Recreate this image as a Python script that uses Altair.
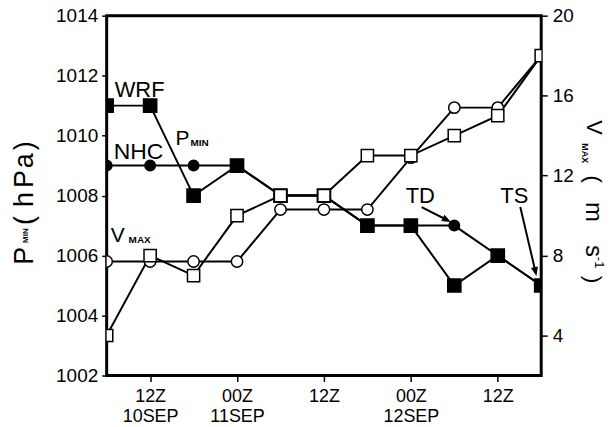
import altair as alt
import pandas as pd

# ---- data (6-hourly, hours after 00Z 10 SEP) ----
hours = [6, 12, 18, 24, 30, 36, 42, 48, 54, 60, 66]
wrf_pmin = [1011, 1011, 1008, 1009, 1008, 1008, 1007, 1007, 1005, 1006, 1005]
nhc_pmin = [1009, 1009, 1009, 1009, 1008, 1008, 1007, 1007, 1007, 1006, 1005]
nhc_vmax = [7.7, 7.7, 7.7, 7.7, 10.3, 10.3, 10.3, 12.9, 15.4, 15.4, 18.0]
wrf_vmax = [4.0, 8.0, 7.0, 10.0, 11.0, 11.0, 13.0, 13.0, 14.0, 15.0, 18.0]

x_tick_values = [12, 24, 36, 48, 60]
x_tick_hour = ["12Z", "00Z", "12Z", "00Z", "12Z"]
x_tick_date = ["10SEP", "11SEP", "", "12SEP", ""]
p_ticks = [1002, 1004, 1006, 1008, 1010, 1012, 1014]
v_ticks = [4, 8, 12, 16, 20]

FONT = "Liberation Sans, Arial, sans-serif"

df = pd.DataFrame({
    "hour": hours,
    "wrf_pmin": wrf_pmin,
    "nhc_pmin": nhc_pmin,
    "nhc_vmax": nhc_vmax,
    "wrf_vmax": wrf_vmax,
})

# x-axis label expression built from tick lists
parts = []
for v, h, d in zip(x_tick_values, x_tick_hour, x_tick_date):
    parts.append(f"datum.value == {v} ? ['{h}', '{d}']")
label_expr = " : ".join(parts) + " : ''"

x_enc = alt.X(
    "hour:Q",
    scale=alt.Scale(domain=[6, 66], nice=False, zero=False),
    axis=alt.Axis(values=x_tick_values, labelExpr=label_expr, title=None,
                  grid=False, domain=False, tickSize=6, tickWidth=1.5,
                  tickColor="black", labelFont=FONT, labelFontSize=18,
                  labelColor="black", labelLineHeight=20, labelPadding=6,
                  labelAngle=0),
)

p_scale = alt.Scale(domain=[1002, 1014], nice=False, zero=False)
p_axis = alt.Axis(values=p_ticks, orient="left", title=None, grid=False,
                  format="d", domain=False, tickSize=5, tickWidth=1.5,
                  tickColor="black", labelFont=FONT, labelFontSize=19,
                  labelColor="black", labelPadding=4)
v_scale = alt.Scale(domain=[2, 20], nice=False, zero=False)
v_axis = alt.Axis(values=v_ticks, orient="right", title=None, grid=False,
                  format="d", domain=False, tickSize=6, tickWidth=1.5,
                  tickColor="black", labelFont=FONT, labelFontSize=19,
                  labelColor="black", labelPadding=5)

base = alt.Chart(df)

def series(field, scale, axis, shape, filled, size):
    y = alt.Y(f"{field}:Q", scale=scale, axis=axis)
    line = base.mark_line(color="black", strokeWidth=2, clip=True).encode(x=x_enc, y=y)
    pts = base.mark_point(shape=shape, filled=True, size=size, clip=True,
                          fill="black" if filled else "white",
                          stroke="black", strokeWidth=1.5, opacity=1).encode(x=x_enc, y=y)
    return line, pts

nhc_p_line, nhc_p_pts = series("nhc_pmin", p_scale, p_axis, "circle", True, 110)
wrf_p_line, wrf_p_pts = series("wrf_pmin", p_scale, p_axis, "square", True, 175)
nhc_v_line, nhc_v_pts = series("nhc_vmax", v_scale, v_axis, "circle", False, 130)
wrf_v_line, wrf_v_pts = series("wrf_vmax", v_scale, v_axis, "square", False, 150)

pmin_group = alt.layer(nhc_p_line, wrf_p_line, nhc_p_pts, wrf_p_pts)
vmax_group = alt.layer(nhc_v_line, wrf_v_line, nhc_v_pts, wrf_v_pts)

one = pd.DataFrame({"a": [0]})

# annotation helper: positions are page pixels, converted to plot-area pixels
ox, oy = 107, 15

def txt(s, x, y, size, weight="normal", angle=0):
    return alt.Chart(one).mark_text(
        text=s, font=FONT, fontSize=size, fontWeight=weight, angle=angle,
        align="left", baseline="alphabetic", color="black"
    ).encode(x=alt.value(x - ox), y=alt.value(y - oy))

def arrow(x1, y1, x2, y2, ang):
    r = alt.Chart(one).mark_rule(color="black", strokeWidth=2).encode(
        x=alt.value(x1 - ox), y=alt.value(y1 - oy),
        x2=alt.value(x2 - ox), y2=alt.value(y2 - oy))
    h = alt.Chart(one).mark_point(
        shape="M0,-0.5L-0.4,0.5L0.4,0.5Z", filled=True, fill="black",
        stroke="black", size=110, angle=ang, opacity=1
    ).encode(x=alt.value(x2 - ox), y=alt.value(y2 - oy))
    return [r, h]

annos = [
    txt("WRF", 115, 97, 22),
    txt("NHC", 114, 159, 23),
    txt("P", 176, 145, 21),
    txt("MIN", 191, 146, 10, weight="bold"),
    txt("V", 111, 242, 21),
    txt("MAX", 129, 243, 10, weight="bold"),
    txt("TD", 407, 203, 22),
    txt("TS", 502, 203, 22),
    # left title (rotated, reads bottom to top)
    txt("P", 33, 265, 27, angle=270),
    txt("MIN", 28.5, 243, 8, weight="bold", angle=270),
    txt("(", 33, 225, 27, angle=270),
    txt("h", 33, 207, 27, angle=270),
    txt("P", 33, 188, 27, angle=270),
    txt("a", 33, 168, 27, angle=270),
    txt(")", 33, 150, 27, angle=270),
    # right title (rotated, reads top to bottom)
    txt("V", 589, 120, 22, angle=90),
    txt("MAX", 584, 143, 9, weight="bold", angle=90),
    txt("(", 588, 175, 23, angle=90),
    txt("m", 588, 202, 24, angle=90),
    txt("s", 588, 245, 24, angle=90),
    txt("-1", 597, 257, 13, angle=90),
    txt(")", 588, 276, 23, angle=90),
]
annos += arrow(423, 207, 447.5, 219.5, 117)
annos += arrow(522, 207, 537, 271, 167)

chart = alt.layer(pmin_group, vmax_group, *annos).resolve_scale(
    y="independent"
).properties(
    width=436, height=361,
    autosize=alt.AutoSizeParams(type="none"),
    padding={"left": 99, "top": 7, "right": 64, "bottom": 53},
).configure_view(stroke="black", strokeWidth=3)

chart.save("out.html", embed_options={"renderer": "svg", "actions": False})
